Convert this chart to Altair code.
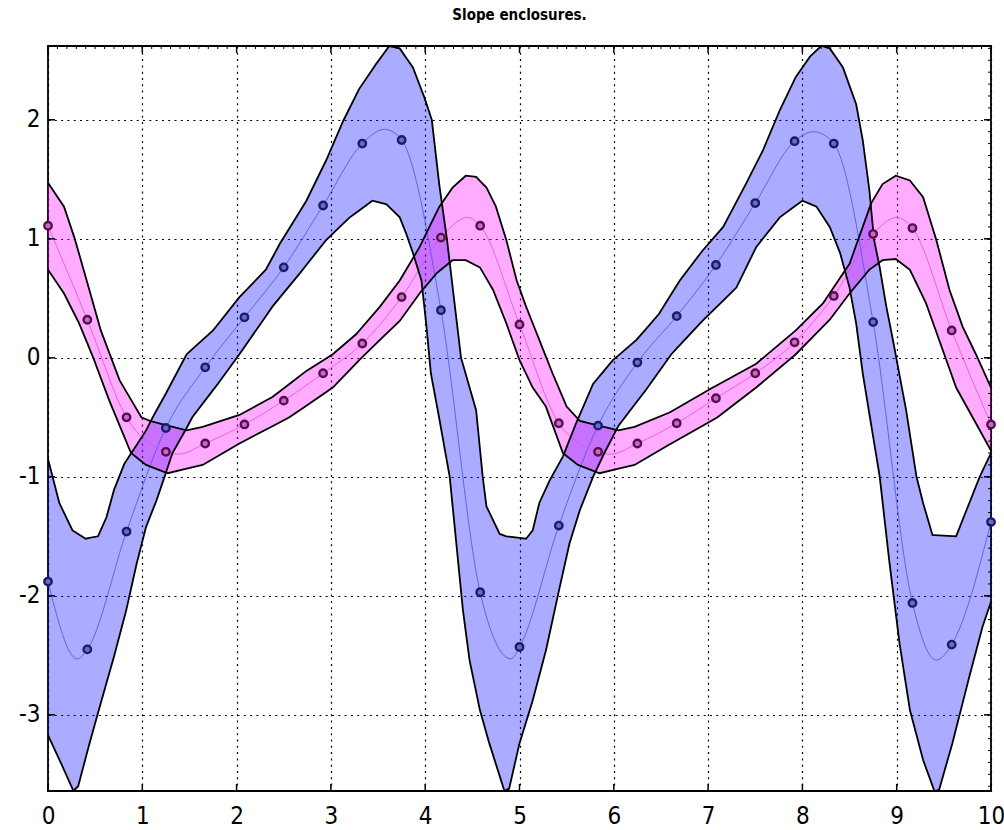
import altair as alt
import numpy as np
import pandas as pd

# integration steps and the point solution at each step
t_steps = [0.000, 0.417, 0.833, 1.250, 1.667, 2.083, 2.500, 2.917, 3.333, 3.750,
           4.167, 4.583, 5.000, 5.417, 5.833, 6.250, 6.667, 7.083, 7.500, 7.917,
           8.333, 8.750, 9.167, 9.583, 10.000]
x_pts = [-1.88, -2.45, -1.46, -0.59, -0.08, 0.34, 0.76, 1.28, 1.80, 1.83,
         0.40, -1.97, -2.43, -1.41, -0.57, -0.04, 0.35, 0.78, 1.30, 1.82,
         1.80, 0.30, -2.06, -2.41, -1.38]
y_pts = [1.11, 0.32, -0.50, -0.79, -0.72, -0.56, -0.36, -0.13, 0.12, 0.51,
         1.01, 1.11, 0.28, -0.55, -0.79, -0.72, -0.55, -0.34, -0.13, 0.13,
         0.52, 1.04, 1.09, 0.23, -0.56]

# turning points of the continuous solution between steps
x_ext_t = [0.31, 3.57, 4.91, 8.12, 9.42]
x_ext_v = [-2.53, 1.92, -2.53, 1.90, -2.54]
y_ext_t = [1.38, 4.45, 5.97, 9.00]
y_ext_v = [-0.81, 1.18, -0.81, 1.18]

# enclosure of x(t): lower and upper bounds
x_lo_t = [0.00, 0.14, 0.27, 0.32, 0.44, 0.56, 0.70, 0.83, 0.94, 1.04, 1.15, 1.24, 1.32,
          1.47, 1.53, 1.80, 2.03, 2.38, 2.67, 2.95, 3.20, 3.44, 3.59, 3.73, 3.80, 3.87,
          3.96, 4.01, 4.06, 4.14, 4.26, 4.33, 4.40, 4.47, 4.58, 4.68, 4.84, 4.89, 5.00,
          5.14, 5.28, 5.42, 5.53, 5.64, 5.78, 5.90, 6.05, 6.34, 6.61, 6.94, 7.30, 7.51,
          7.76, 8.00, 8.15, 8.29, 8.40, 8.50, 8.57, 8.64, 8.71, 8.82, 8.92, 9.03, 9.14,
          9.28, 9.40, 9.45, 9.59, 9.77, 9.91, 10.00]
x_lo_v = [-3.17, -3.41, -3.64, -3.60, -3.24, -2.90, -2.51, -2.12, -1.73, -1.42, -1.20,
          -0.99, -0.80, -0.59, -0.50, -0.22, 0.03, 0.43, 0.71, 0.99, 1.18, 1.32, 1.29,
          1.18, 1.04, 0.88, 0.65, 0.29, -0.13, -0.47, -1.00, -1.56, -2.12, -2.54, -2.96,
          -3.24, -3.64, -3.62, -3.24, -2.88, -2.46, -1.95, -1.56, -1.28, -1.00, -0.80,
          -0.57, -0.27, 0.03, 0.31, 0.59, 0.93, 1.18, 1.32, 1.27, 1.10, 0.88, 0.59,
          0.29, -0.13, -0.47, -1.00, -1.70, -2.40, -2.96, -3.38, -3.64, -3.63, -3.24,
          -2.68, -2.26, -2.05]
x_hi_t = [0.00, 0.12, 0.26, 0.40, 0.53, 0.62, 0.70, 0.81, 1.04, 1.11, 1.25, 1.47, 1.75,
          2.03, 2.31, 2.46, 2.74, 2.95, 3.13, 3.30, 3.48, 3.62, 3.73, 3.87, 3.99, 4.07,
          4.15, 4.23, 4.38, 4.54, 4.61, 4.65, 4.79, 4.86, 5.07, 5.14, 5.21, 5.32, 5.46,
          5.60, 5.78, 5.99, 6.24, 6.48, 6.70, 6.94, 7.16, 7.40, 7.58, 7.76, 7.93, 8.08,
          8.20, 8.29, 8.43, 8.57, 8.64, 8.71, 8.76, 8.82, 8.89, 8.96, 9.10, 9.21, 9.28,
          9.38, 9.63, 9.74, 9.88, 10.00]
x_hi_v = [-0.85, -1.22, -1.45, -1.52, -1.50, -1.34, -1.11, -0.89, -0.61, -0.50, -0.30,
          0.03, 0.23, 0.51, 0.74, 0.96, 1.32, 1.66, 1.99, 2.26, 2.47, 2.62, 2.60, 2.44,
          2.19, 2.00, 1.45, 1.00, 0.00, -0.44, -1.00, -1.25, -1.48, -1.50, -1.52, -1.45,
          -1.22, -1.03, -0.83, -0.55, -0.22, -0.02, 0.15, 0.37, 0.65, 0.90, 1.10, 1.46,
          1.74, 2.08, 2.36, 2.53, 2.62, 2.60, 2.44, 2.13, 1.83, 1.41, 0.99, 0.76, 0.43,
          0.15, -0.44, -1.00, -1.22, -1.49, -1.50, -1.28, -1.00, -0.80]

# enclosure of y(t): lower and upper bounds
y_lo_t = [0.00, 0.17, 0.33, 0.48, 0.65, 0.88, 1.04, 1.27, 1.64, 2.03, 2.56, 3.02, 3.30,
          3.52, 3.73, 3.94, 4.12, 4.29, 4.43, 4.58, 4.72, 4.86, 5.00, 5.14, 5.28, 5.46,
          5.62, 5.85, 6.22, 6.61, 7.10, 7.51, 7.93, 8.29, 8.50, 8.71, 8.85, 8.99, 9.14,
          9.31, 9.45, 9.63, 9.84, 10.00]
y_lo_v = [0.74, 0.54, 0.29, 0.00, -0.36, -0.80, -0.90, -0.97, -0.90, -0.72, -0.50,
          -0.25, -0.02, 0.15, 0.31, 0.54, 0.71, 0.82, 0.82, 0.76, 0.57, 0.29, -0.02,
          -0.25, -0.41, -0.80, -0.90, -0.97, -0.90, -0.72, -0.50, -0.25, 0.03, 0.32,
          0.54, 0.74, 0.82, 0.83, 0.74, 0.46, 0.15, -0.25, -0.55, -0.78]
y_hi_t = [0.00, 0.17, 0.28, 0.41, 0.56, 0.76, 0.99, 1.08, 1.47, 1.64, 2.03, 2.38, 2.74,
          3.02, 3.27, 3.52, 3.73, 3.94, 4.15, 4.29, 4.43, 4.54, 4.65, 4.75, 4.86, 4.97,
          5.07, 5.21, 5.35, 5.50, 5.64, 6.05, 6.22, 6.59, 7.05, 7.51, 7.93, 8.22, 8.50,
          8.73, 8.85, 8.99, 9.14, 9.28, 9.42, 9.56, 9.70, 9.84, 10.00]
y_hi_v = [1.47, 1.27, 1.01, 0.65, 0.23, -0.19, -0.50, -0.53, -0.61, -0.58, -0.48,
          -0.33, -0.11, 0.03, 0.20, 0.43, 0.65, 0.93, 1.27, 1.43, 1.53, 1.52, 1.43,
          1.27, 0.99, 0.65, 0.43, 0.15, -0.13, -0.41, -0.53, -0.61, -0.58, -0.46,
          -0.25, -0.05, 0.23, 0.46, 0.79, 1.30, 1.46, 1.53, 1.49, 1.35, 0.99, 0.57,
          0.26, 0.03, -0.25]

x_ticks = [0, 1, 2, 3, 4, 5, 6, 7, 8, 9, 10]
y_ticks = [-3, -2, -1, 0, 1, 2]
y_min, y_max = -3.64, 2.62

W, H = 943, 745
FONT = "Liberation Sans Narrow, DejaVu Sans Condensed, Liberation Sans, sans-serif"


def band_table(lo_t, lo_v, hi_t, hi_v):
    # both bounds on a common set of abscissae so they can fill one area
    tt = np.array(sorted(set(lo_t) | set(hi_t)))
    return pd.DataFrame({"t": tt,
                         "lo": np.interp(tt, lo_t, lo_v),
                         "hi": np.interp(tt, hi_t, hi_v)})


def curve_table(pt_t, pt_v, ext_t, ext_v):
    rows = sorted(zip(list(pt_t) + list(ext_t), list(pt_v) + list(ext_v)))
    return pd.DataFrame(rows, columns=["t", "v"])


x_band = band_table(x_lo_t, x_lo_v, x_hi_t, x_hi_v)
y_band = band_table(y_lo_t, y_lo_v, y_hi_t, y_hi_v)
x_curve = curve_table(t_steps, x_pts, x_ext_t, x_ext_v)
y_curve = curve_table(t_steps, y_pts, y_ext_t, y_ext_v)
pts = pd.DataFrame({"t": t_steps, "x": x_pts, "y": y_pts})

xs = alt.Scale(domain=[0, 10], nice=False, zero=False)
ys = alt.Scale(domain=[y_min, y_max], nice=False, zero=False)

X_AX = alt.Axis(values=x_ticks, grid=True, ticks=False, domain=False,
                labelPadding=13, labelExpr="datum.value + ''", labelFlush=False)
Y_AX = alt.Axis(values=y_ticks, grid=True, ticks=False, domain=False,
                labelPadding=8, labelExpr="datum.value + ''")


def area(df, color):
    return alt.Chart(df).mark_area(color=color, opacity=0.33, clip=True).encode(
        x=alt.X("t:Q", scale=xs, axis=X_AX, title=None),
        y=alt.Y("lo:Q", scale=ys, axis=Y_AX, title=None),
        y2="hi:Q")


def edge(df, field):
    return alt.Chart(df).mark_line(color="black", strokeWidth=1.8, clip=True).encode(
        x=alt.X("t:Q", scale=xs), y=alt.Y(f"{field}:Q", scale=ys))


def centre(df, color):
    return alt.Chart(df).mark_line(color=color, strokeWidth=1, opacity=0.8,
                                   interpolate="monotone", clip=True).encode(
        x=alt.X("t:Q", scale=xs), y=alt.Y("v:Q", scale=ys))


def dots(field, stroke, fill):
    return alt.Chart(pts).mark_point(shape="circle", size=55, filled=False,
                                     stroke=stroke, strokeWidth=2.4, fill=fill,
                                     fillOpacity=1).encode(
        x=alt.X("t:Q", scale=xs), y=alt.Y(f"{field}:Q", scale=ys))


# inward tick marks around the frame
xt = pd.DataFrame({"t": x_ticks})
yt = pd.DataFrame({"v": y_ticks})
minor_x = pd.DataFrame({"t": [i / 10 for i in range(0, 101)]})
minor_y = pd.DataFrame({"v": [i / 10 for i in range(-36, 27)]})

tick_bottom = alt.Chart(xt).mark_rule(color="black", strokeWidth=1.5).encode(
    x=alt.X("t:Q", scale=xs), y=alt.value(H), y2=alt.value(H - 7))
tick_top = alt.Chart(xt).mark_rule(color="black", strokeWidth=1.5).encode(
    x=alt.X("t:Q", scale=xs), y=alt.value(0), y2=alt.value(7))
tick_left = alt.Chart(yt).mark_rule(color="black", strokeWidth=1.5).encode(
    y=alt.Y("v:Q", scale=ys), x=alt.value(0), x2=alt.value(7))
tick_right = alt.Chart(yt).mark_rule(color="black", strokeWidth=1.5).encode(
    y=alt.Y("v:Q", scale=ys), x=alt.value(W), x2=alt.value(W - 7))
minor_top = alt.Chart(minor_x).mark_rule(color="black", strokeWidth=1).encode(
    x=alt.X("t:Q", scale=xs), y=alt.value(0), y2=alt.value(3))
minor_right = alt.Chart(minor_y).mark_rule(color="black", strokeWidth=1).encode(
    y=alt.Y("v:Q", scale=ys), x=alt.value(W), x2=alt.value(W - 3))

chart = alt.layer(
    area(x_band, "#0000ff"),
    area(y_band, "#ff00ff"),
    centre(x_curve, "#5050e0"),
    centre(y_curve, "#e050e0"),
    edge(x_band, "lo"), edge(x_band, "hi"),
    edge(y_band, "lo"), edge(y_band, "hi"),
    dots("x", "#1c1c66", "#6a6ac8"),
    dots("y", "#5a0c50", "#c070c0"),
    tick_bottom, tick_top, tick_left, tick_right, minor_top, minor_right,
).properties(
    width=W, height=H,
    title=alt.TitleParams("Slope enclosures.", font=FONT, fontSize=15,
                          fontWeight="bold", color="black", anchor="middle",
                          baseline="alphabetic", offset=10),
    padding={"left": 48, "top": 46, "right": 13, "bottom": 39},
    autosize="none",
).configure_view(
    stroke="black", strokeWidth=1.8
).configure_axis(
    labelFont=FONT, labelFontSize=24, labelColor="black",
    gridColor="black", gridOpacity=1, gridWidth=1.2, gridDash=[2, 4.3],
)

chart.save("out.html", embed_options={"renderer": "svg", "actions": False})
